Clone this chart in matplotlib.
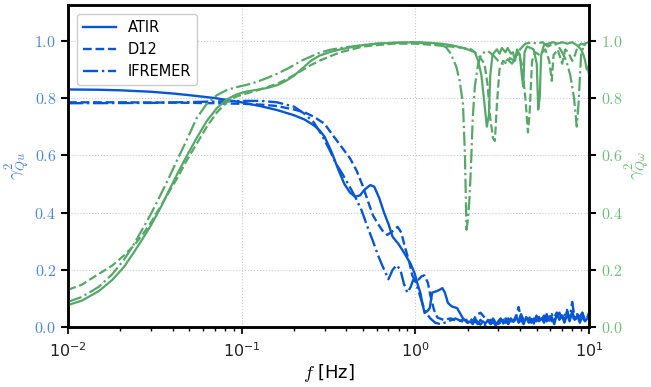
import matplotlib
matplotlib.use("Agg")
import matplotlib.pyplot as plt
from matplotlib.ticker import FuncFormatter, LogLocator
import numpy as np

plt.rcParams['mathtext.fontset'] = 'cm'
plt.rcParams['font.family'] = 'DejaVu Sans'

# shared high-frequency grid for the noisy tail of the Qu coherence
f_tail = [2.0, 2.07, 2.14, 2.21, 2.29, 2.37, 2.45, 2.53, 2.62, 2.71, 2.8, 2.9, 3.0,
          3.1, 3.21, 3.32, 3.43, 3.55, 3.67, 3.8, 3.93, 4.06, 4.2, 4.35, 4.5, 4.65,
          4.81, 4.98, 5.15, 5.33, 5.51, 5.7, 5.9, 6.1, 6.31, 6.53, 6.75, 6.98, 7.22,
          7.47, 7.73, 8.0, 8.27, 8.55, 8.85, 9.15, 9.47, 9.8, 10.0]

# --- gamma^2_Qu (left axis, blue) ---
f_qu_atir = [0.01, 0.015, 0.02, 0.03, 0.04, 0.05, 0.07, 0.1, 0.13, 0.16, 0.2, 0.23,
             0.26, 0.28, 0.3, 0.33, 0.36, 0.39, 0.42, 0.45, 0.48, 0.51, 0.55, 0.58,
             0.62, 0.66, 0.70, 0.74, 0.8, 0.85, 0.89, 0.94, 0.99, 1.03, 1.07, 1.1,
             1.13, 1.17, 1.21, 1.25, 1.32, 1.38, 1.43, 1.48, 1.54, 1.62, 1.74, 1.88]
qu_atir = [0.830, 0.829, 0.827, 0.822, 0.816, 0.810, 0.800, 0.785, 0.771, 0.758,
           0.740, 0.725, 0.705, 0.688, 0.665, 0.610, 0.550, 0.500, 0.470, 0.455,
           0.460, 0.480, 0.496, 0.490, 0.450, 0.400, 0.360, 0.315, 0.290, 0.265,
           0.245, 0.220, 0.188, 0.150, 0.118, 0.080, 0.049, 0.055, 0.066, 0.120,
           0.125, 0.130, 0.136, 0.120, 0.084, 0.072, 0.066, 0.030]
qu_atir_tail = [0.014, 0.02, 0.01, 0.03, 0.015, 0.008, 0.02, 0.012, 0.025, 0.01, 0.018,
                0.006, 0.02, 0.03, 0.012, 0.022, 0.01, 0.03, 0.018, 0.04, 0.015, 0.025,
                0.01, 0.035, 0.02, 0.028, 0.012, 0.04, 0.02, 0.03, 0.015, 0.045, 0.022,
                0.035, 0.01, 0.05, 0.025, 0.04, 0.015, 0.045, 0.02, 0.055, 0.025, 0.04,
                0.015, 0.035, 0.02, 0.03, 0.05]

f_qu_d12 = [0.01, 0.02, 0.04, 0.07, 0.1, 0.13, 0.16, 0.2, 0.23, 0.26, 0.3, 0.33, 0.37,
            0.42, 0.46, 0.5, 0.54, 0.57, 0.61, 0.65, 0.69, 0.74, 0.79, 0.83, 0.87, 0.92,
            0.96, 1.0, 1.04, 1.09, 1.13, 1.18, 1.22, 1.28, 1.34, 1.45, 1.6, 1.75, 1.9]
qu_d12 = [0.785, 0.785, 0.784, 0.782, 0.780, 0.777, 0.772, 0.760, 0.750, 0.735, 0.710,
          0.675, 0.635, 0.590, 0.545, 0.490, 0.430, 0.390, 0.360, 0.335, 0.322, 0.335,
          0.350, 0.330, 0.280, 0.230, 0.180, 0.160, 0.165, 0.178, 0.180, 0.155, 0.110,
          0.060, 0.033, 0.025, 0.030, 0.020, 0.025]
qu_d12_tail = [0.025, 0.03, 0.02, 0.035, 0.045, 0.05, 0.04, 0.03, 0.02, 0.025, 0.015,
               0.02, 0.01, 0.025, 0.02, 0.03, 0.015, 0.025, 0.02, 0.035, 0.07, 0.03, 0.02,
               0.03, 0.015, 0.025, 0.035, 0.02, 0.03, 0.04, 0.025, 0.03, 0.045, 0.02,
               0.035, 0.05, 0.025, 0.04, 0.03, 0.055, 0.03, 0.045, 0.02, 0.04, 0.03, 0.05,
               0.025, 0.035, 0.045]

f_qu_ifr = [0.01, 0.03, 0.06, 0.1, 0.13, 0.16, 0.2, 0.23, 0.26, 0.29, 0.32, 0.35, 0.38,
            0.41, 0.45, 0.49, 0.53, 0.57, 0.61, 0.65, 0.70, 0.74, 0.78, 0.82, 0.86, 0.9,
            0.94, 0.97, 1.0, 1.05, 1.1, 1.15, 1.22, 1.3, 1.4, 1.55, 1.7, 1.85]
qu_ifr = [0.782, 0.783, 0.787, 0.790, 0.790, 0.785, 0.770, 0.745, 0.715, 0.670, 0.620,
          0.570, 0.535, 0.500, 0.455, 0.408, 0.350, 0.300, 0.250, 0.210, 0.167, 0.200,
          0.216, 0.200, 0.150, 0.120, 0.140, 0.164, 0.160, 0.120, 0.080, 0.050, 0.030,
          0.015, 0.010, 0.020, 0.030, 0.020]
qu_ifr_tail = [0.02, 0.01, 0.015, 0.02, 0.01, 0.025, 0.015, 0.005, 0.02, 0.012, 0.03,
               0.015, 0.02, 0.01, 0.025, 0.015, 0.03, 0.02, 0.015, 0.03, 0.02, 0.045,
               0.025, 0.02, 0.04, 0.015, 0.03, 0.02, 0.035, 0.025, 0.04, 0.02, 0.03,
               0.045, 0.025, 0.035, 0.05, 0.03, 0.04, 0.06, 0.025, 0.088, 0.03, 0.045,
               0.035, 0.05, 0.02, 0.04, 0.03]

# --- gamma^2_Qw (right axis, green) ---
f_qw_atir = [0.01, 0.012, 0.015, 0.018, 0.021, 0.024, 0.027, 0.03, 0.034, 0.038, 0.043,
             0.048, 0.055, 0.063, 0.072, 0.082, 0.093, 0.105, 0.12, 0.14, 0.16, 0.18,
             0.2, 0.22, 0.25, 0.28, 0.32, 0.37, 0.43, 0.5, 0.6, 0.75, 1.0, 1.2, 1.4,
             1.6, 1.8, 2.0, 2.2, 2.3, 2.4, 2.5, 2.58, 2.65, 2.7, 2.78, 2.85, 2.95, 3.05,
             3.15, 3.3, 3.4, 3.55, 3.65, 3.75, 3.85, 4.0, 4.1, 4.18, 4.25, 4.4, 4.6,
             4.8, 5.0, 5.1, 5.2, 5.3, 5.5, 5.8, 6.2, 6.6, 7.0, 7.5, 8.0, 8.5, 9.0, 9.3,
             9.5, 9.7, 9.85, 10.0]
qw_atir = [0.077, 0.092, 0.125, 0.165, 0.210, 0.262, 0.310, 0.355, 0.415, 0.475, 0.540,
           0.595, 0.660, 0.720, 0.765, 0.795, 0.812, 0.822, 0.828, 0.835, 0.845, 0.860,
           0.878, 0.900, 0.930, 0.948, 0.960, 0.970, 0.978, 0.985, 0.990, 0.993, 0.995,
           0.993, 0.990, 0.985, 0.978, 0.970, 0.960, 0.930, 0.880, 0.780, 0.700, 0.740,
           0.880, 0.950, 0.960, 0.970, 0.955, 0.975, 0.960, 0.975, 0.955, 0.960, 0.930,
           0.970, 0.950, 0.880, 0.840, 0.960, 0.980, 0.975, 0.970, 0.920, 0.760, 0.800,
           0.950, 0.985, 0.990, 0.995, 0.990, 0.995, 0.990, 0.995, 0.985, 0.970, 0.950,
           0.930, 0.900, 0.910, 0.880]

f_qw_d12 = [0.01, 0.012, 0.015, 0.018, 0.021, 0.024, 0.027, 0.03, 0.034, 0.038, 0.043,
            0.048, 0.055, 0.063, 0.072, 0.082, 0.093, 0.105, 0.12, 0.14, 0.16, 0.18,
            0.2, 0.22, 0.25, 0.28, 0.32, 0.37, 0.43, 0.5, 0.6, 0.75, 1.0, 1.3, 1.6,
            1.9, 2.1, 2.3, 2.5, 2.6, 2.7, 2.8, 2.87, 2.95, 3.05, 3.2, 3.35, 3.5, 3.7,
            3.9, 4.1, 4.3, 4.45, 4.55, 4.7, 4.9, 5.2, 5.6, 5.9, 6.1, 6.25, 6.6, 7.0,
            7.3, 7.6, 8.0, 8.3, 8.6, 9.0, 9.5, 10.0]
qw_d12 = [0.130, 0.148, 0.185, 0.215, 0.250, 0.285, 0.325, 0.365, 0.420, 0.470, 0.525,
          0.580, 0.640, 0.700, 0.750, 0.785, 0.805, 0.815, 0.825, 0.838, 0.850, 0.865,
          0.880, 0.895, 0.915, 0.930, 0.945, 0.960, 0.970, 0.980, 0.985, 0.990, 0.990,
          0.985, 0.980, 0.975, 0.970, 0.950, 0.920, 0.850, 0.730, 0.660, 0.650, 0.780,
          0.900, 0.930, 0.920, 0.940, 0.930, 0.960, 0.920, 0.800, 0.680, 0.750, 0.930,
          0.960, 0.950, 0.970, 0.930, 0.860, 0.950, 0.970, 0.920, 0.970, 0.960, 0.930,
          0.950, 0.980, 0.990, 0.985, 0.980]

f_qw_ifr = [0.01, 0.012, 0.015, 0.018, 0.021, 0.024, 0.027, 0.03, 0.034, 0.038, 0.043,
            0.048, 0.055, 0.063, 0.072, 0.082, 0.093, 0.105, 0.12, 0.14, 0.16, 0.18,
            0.2, 0.22, 0.25, 0.28, 0.32, 0.37, 0.43, 0.5, 0.6, 0.75, 1.0, 1.2, 1.4,
            1.5, 1.6, 1.72, 1.8, 1.88, 1.93, 1.97, 2.01, 2.05, 2.09, 2.14, 2.2, 2.3,
            2.4, 2.6, 2.8, 3.0, 3.2, 3.4, 3.6, 3.8, 4.0, 4.3, 4.7, 5.0, 5.4, 5.8, 6.2,
            6.6, 7.0, 7.4, 7.8, 8.2, 8.5, 8.7, 9.0, 9.4, 10.0]
qw_ifr = [0.088, 0.105, 0.140, 0.185, 0.235, 0.290, 0.345, 0.395, 0.460, 0.520, 0.590,
          0.650, 0.730, 0.780, 0.810, 0.828, 0.838, 0.845, 0.855, 0.870, 0.885, 0.900,
          0.915, 0.930, 0.945, 0.958, 0.968, 0.975, 0.980, 0.985, 0.990, 0.993, 0.995,
          0.990, 0.985, 0.978, 0.955, 0.910, 0.860, 0.780, 0.600, 0.340, 0.380, 0.450,
          0.560, 0.730, 0.840, 0.920, 0.955, 0.965, 0.950, 0.930, 0.920, 0.935, 0.920,
          0.940, 0.970, 0.990, 0.995, 0.990, 0.995, 0.980, 0.990, 0.985, 0.960, 0.930,
          0.880, 0.800, 0.700, 0.780, 0.950, 0.990, 0.995]

blue = '#0656d6'
green = '#55a868'
blue_lbl = '#4a86e8'
green_lbl = '#6cbf7a'

fig = plt.figure(figsize=(6.51, 3.87), dpi=100)
ax = fig.add_axes([0.1045, 0.155, 0.8003, 0.832])
ax2 = ax.twinx()

ax.plot(f_qu_atir + f_tail, qu_atir + qu_atir_tail, color=blue, lw=1.7, ls='-', label='ATIR')
ax.plot(f_qu_d12 + f_tail, qu_d12 + qu_d12_tail, color=blue, lw=1.7, ls='--', label='D12')
ax.plot(f_qu_ifr + f_tail, qu_ifr + qu_ifr_tail, color=blue, lw=1.7, ls='-.', label='IFREMER')

ax2.plot(f_qw_atir, qw_atir, color=green, lw=1.6, ls='-')
ax2.plot(f_qw_d12, qw_d12, color=green, lw=1.6, ls='--')
ax2.plot(f_qw_ifr, qw_ifr, color=green, lw=1.6, ls='-.')

for a in (ax, ax2):
    a.set_xscale('log')
    a.set_xlim(0.01, 10)
    a.set_ylim(0, 1.125)
    a.set_yticks([0, 0.2, 0.4, 0.6, 0.8, 1.0])
    a.yaxis.set_major_formatter(FuncFormatter(lambda v, p: r'$%.1f$' % v))
    for s in a.spines.values():
        s.set_linewidth(1.8)
    a.tick_params(which='major', length=5, width=1.5, labelsize=11.5)
    a.tick_params(which='minor', length=3, width=1.0)

ax.xaxis.set_major_locator(LogLocator(base=10))
ax.tick_params(axis='y', labelcolor=blue_lbl)
ax2.tick_params(axis='y', labelcolor=green_lbl)
ax.tick_params(axis='x', labelsize=11.5, colors='#222222', pad=5)

ax.grid(True, which='major', ls=':', lw=0.8, color='#c8c8c8')

ax.set_xlabel(r'$f$ [Hz]', fontsize=13, labelpad=2)
ax.set_ylabel(r'$\gamma^2_{Qu}$', fontsize=13, color=blue_lbl)
ax2.set_ylabel(r'$\gamma^2_{Q\omega}$', fontsize=13, color=green_lbl)
ax.yaxis.set_label_coords(-0.07, 0.5)
ax2.yaxis.set_label_coords(1.066, 0.5)

ax.legend(loc='upper left', fontsize=10.5, framealpha=1, edgecolor='#cccccc',
          handlelength=2.3, borderaxespad=0.6)

fig.savefig('out.png', dpi=100)
